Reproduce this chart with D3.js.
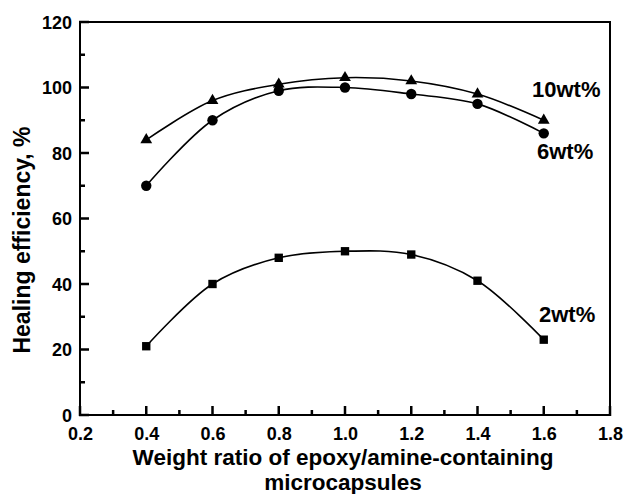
<!DOCTYPE html>
<html>
<head>
<meta charset="utf-8">
<script src="https://cdn.jsdelivr.net/npm/d3@7"></script>
<style>
  body { margin: 0; background: #fff; }
  text { font-family: "Liberation Sans", Arial, sans-serif; font-weight: bold; fill: #000; }
</style>
</head>
<body>
<script>
'use strict'
// data
var ratios = [0.4, 0.6, 0.8, 1.0, 1.2, 1.4, 1.6]
var eff2 = [21, 40, 48, 50, 49, 41, 23]
var eff6 = [70, 90, 99, 100, 98, 95, 86]
var eff10 = [84, 96, 101, 103, 102, 98, 90]
var xTicks = [0.2, 0.4, 0.6, 0.8, 1.0, 1.2, 1.4, 1.6, 1.8]
var yTicks = [0, 20, 40, 60, 80, 100, 120]

var margin = {top: 22, right: 14, bottom: 79, left: 80}
var width = 624 - margin.left - margin.right
var height = 494 - margin.top - margin.bottom

var x = d3.scaleLinear().domain([0.2, 1.8]).range([0, width])
var y = d3.scaleLinear().domain([0, 120]).range([height, 0])

var svg = d3.select('body').append('svg')
  .attr('width', 624)
  .attr('height', 494)
  .append('g')
  .attr('transform', `translate(${margin.left}, ${margin.top})`)

// frame as four thin filled bars
var lw = 2
var frame = [
  [-lw / 2, -lw / 2, width + lw, lw],
  [-lw / 2, height - lw / 2, width + lw, lw],
  [-lw / 2, -lw / 2, lw, height + lw],
  [width - lw / 2, -lw / 2, lw, height + lw]
]
svg.selectAll('.frame').data(frame).enter().append('rect')
  .attr('class', 'frame')
  .attr('x', d => d[0]).attr('y', d => d[1])
  .attr('width', d => d[2]).attr('height', d => d[3])
  .attr('fill', '#000')

// ticks (major and minor), pointing inward
var tw = 2.5
var xMinor = d3.range(0.3, 1.8, 0.2)
var yMinor = d3.range(10, 120, 20)
var xTickMarks = xTicks.map(v => [v, 9]).concat(xMinor.map(v => [v, 5]))
var yTickMarks = yTicks.map(v => [v, 9]).concat(yMinor.map(v => [v, 5]))
svg.selectAll('.xtick').data(xTickMarks).enter().append('rect')
  .attr('class', 'xtick')
  .attr('x', d => x(d[0]) - tw / 2).attr('y', d => height - d[1])
  .attr('width', tw).attr('height', d => d[1] + 1)
  .attr('fill', '#000')
svg.selectAll('.ytick').data(yTickMarks).enter().append('rect')
  .attr('class', 'ytick')
  .attr('x', -1).attr('y', d => y(d[0]) - tw / 2)
  .attr('width', d => d[1] + 1).attr('height', tw)
  .attr('fill', '#000')

var xAxis = svg.append('g')
  .attr('transform', `translate(0, ${height})`)
  .call(d3.axisBottom(x).tickValues(xTicks).tickFormat(d3.format('.1f')).tickSize(0).tickPadding(12))
var yAxis = svg.append('g')
  .call(d3.axisLeft(y).tickValues(yTicks).tickSize(0).tickPadding(8))
;[xAxis, yAxis].forEach(function (a) {
  a.select('.domain').remove()
  a.selectAll('text').attr('font-size', '18px').attr('font-family', null)
})
yAxis.selectAll('text').attr('dy', '0.35em')

var line = d3.line()
  .x(d => x(d[0]))
  .y(d => y(d[1]))
  .curve(d3.curveCatmullRom)

var series = [
  {name: '2wt%', values: eff2, marker: d3.symbolSquare, size: 70, lx: 539, ly: 322},
  {name: '6wt%', values: eff6, marker: d3.symbolCircle, size: 85, lx: 537, ly: 159},
  {name: '10wt%', values: eff10, marker: d3.symbolTriangle, size: 60, lx: 532, ly: 97}
]

series.forEach(function (s) {
  var pts = ratios.map((r, i) => [r, s.values[i]])
  svg.append('path')
    .datum(pts)
    .attr('d', line)
    .attr('fill', 'none')
    .attr('stroke', '#000')
    .attr('stroke-width', 1.6)
  svg.selectAll(null).data(pts).enter().append('path')
    .attr('d', d3.symbol().type(s.marker).size(s.size))
    .attr('transform', d => `translate(${x(d[0])}, ${y(d[1])})`)
    .attr('fill', '#000')
  svg.append('text')
    .attr('x', s.lx - margin.left)
    .attr('y', s.ly - margin.top)
    .attr('font-size', '22px')
    .text(s.name)
})

// axis titles
svg.append('text')
  .attr('x', 343 - margin.left).attr('y', 465 - margin.top)
  .attr('text-anchor', 'middle').attr('font-size', '22.5px')
  .text('Weight ratio of epoxy/amine-containing')
svg.append('text')
  .attr('x', 343 - margin.left).attr('y', 490 - margin.top)
  .attr('text-anchor', 'middle').attr('font-size', '22.5px')
  .text('microcapsules')
svg.append('text')
  .attr('transform', `translate(${30 - margin.left}, ${240 - margin.top}) rotate(-90)`)
  .attr('text-anchor', 'middle').attr('font-size', '23px')
  .text('Healing efficiency, %')
</script>
</body>
</html>
